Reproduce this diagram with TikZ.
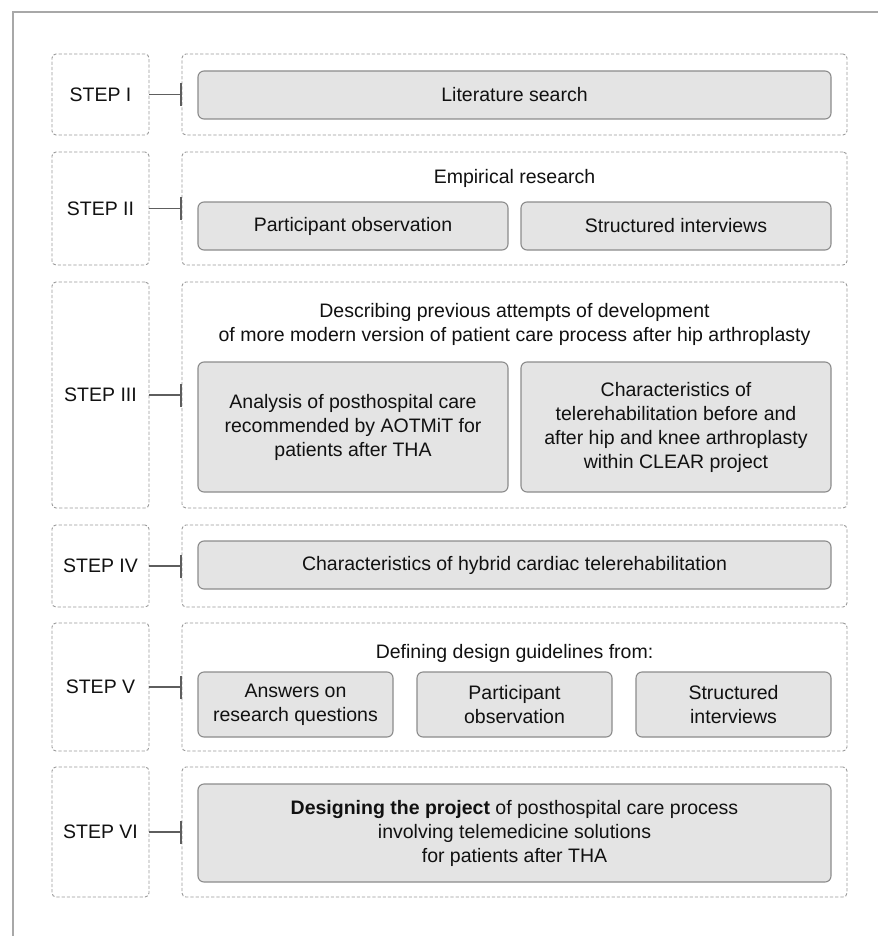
\documentclass[tikz,border=0pt]{standalone}
\usepackage{fontspec}
\setmainfont{Liberation Sans}
\usetikzlibrary{arrows.meta}
\definecolor{boxfill}{HTML}{E4E4E4}
\definecolor{boxline}{HTML}{8C8C8C}
\definecolor{dashline}{HTML}{9A9A9A}
\definecolor{linkline}{HTML}{5E5E5E}
\definecolor{framecol}{HTML}{A8A8A8}
\definecolor{txt}{HTML}{111111}
\begin{document}
\begin{tikzpicture}[x=1pt,y=-1pt,
  every node/.style={font=\fontsize{19.5}{24}\selectfont, text=txt,
    inner sep=0pt, outer sep=0pt, align=center},
  dashbox/.style={draw=dashline, dash pattern=on 3.2pt off 2pt,
    line width=0.9pt, rounded corners=4pt},
  graybox/.style={draw=boxline, fill=boxfill, line width=1.1pt,
    rounded corners=6pt},
  link/.style={draw=linkline, line width=1.3pt,
    -{Bar[width=23pt,line width=2.2pt]}}
]
% page and outer frame
\fill[white] (0,0) rectangle (878,936);
\useasboundingbox (0,0) rectangle (878,936);
\draw[framecol, line width=1.5pt] (13,936) -- (13,12) -- (878,12);

% ---------- STEP I ----------
\node[dashbox, minimum width=97, minimum height=81] (lab1) at (100.5,94.5) {STEP I};
\node[dashbox, minimum width=665, minimum height=81] (grp1) at (514.5,94.5) {};
\node[graybox, minimum width=633, minimum height=48] (lit) at (514.5,95) {Literature search};
\draw[link] (lab1.east) -- (grp1.west);

% ---------- STEP II ----------
\node[dashbox, minimum width=97, minimum height=113] (lab2) at (100.5,208.5) {STEP II};
\node[dashbox, minimum width=665, minimum height=113] (grp2) at (514.5,208.5) {};
\node (ttl2) at (514.5,178) {Empirical research};
\node[graybox, minimum width=310, minimum height=48] (obs2) at (353,226) {Participant observation};
\node[graybox, minimum width=310, minimum height=48] (int2) at (676,226) {Structured interviews};
\draw[link] (lab2.east) -- (grp2.west);

% ---------- STEP III ----------
\node[dashbox, minimum width=97, minimum height=226] (lab3) at (100.5,395) {STEP III};
\node[dashbox, minimum width=665, minimum height=226] (grp3) at (514.5,395) {};
\node (ttl3) at (514.5,324) {Describing previous attempts of development\\
  of more modern version of patient care process after hip arthroplasty};
\node[graybox, minimum width=310, minimum height=130] (aot3) at (353,427)
  {Analysis of posthospital care\\recommended by AOTMiT for\\patients after THA};
\node[graybox, minimum width=310, minimum height=130] (clr3) at (676,427)
  {Characteristics of\\telerehabilitation before and\\after hip and knee arthroplasty\\within CLEAR project};
\draw[link] (lab3.east) -- (grp3.west);

% ---------- STEP IV ----------
\node[dashbox, minimum width=97, minimum height=82] (lab4) at (100.5,566) {STEP IV};
\node[dashbox, minimum width=665, minimum height=82] (grp4) at (514.5,566) {};
\node[graybox, minimum width=633, minimum height=48] (hyb4) at (514.5,565)
  {Characteristics of hybrid cardiac telerehabilitation};
\draw[link] (lab4.east) -- (grp4.west);

% ---------- STEP V ----------
\node[dashbox, minimum width=97, minimum height=128] (lab5) at (100.5,687) {STEP V};
\node[dashbox, minimum width=665, minimum height=128] (grp5) at (514.5,687) {};
\node (ttl5) at (514.5,653) {Defining design guidelines from:};
\node[graybox, minimum width=195, minimum height=65] (ans5) at (295.5,704.5)
  {Answers on\\research questions};
\node[graybox, minimum width=195, minimum height=65] (obs5) at (514.5,704.5)
  {Participant\\observation};
\node[graybox, minimum width=195, minimum height=65] (int5) at (733.5,704.5)
  {Structured\\interviews};
\draw[link] (lab5.east) -- (grp5.west);

% ---------- STEP VI ----------
\node[dashbox, minimum width=97, minimum height=130] (lab6) at (100.5,832) {STEP VI};
\node[dashbox, minimum width=665, minimum height=130] (grp6) at (514.5,832) {};
\node[graybox, minimum width=633, minimum height=98] (des6) at (514.5,833)
  {\textbf{Designing the project} of posthospital care process\\
   involving telemedicine solutions\\for patients after THA};
\draw[link] (lab6.east) -- (grp6.west);
\end{tikzpicture}
\end{document}
